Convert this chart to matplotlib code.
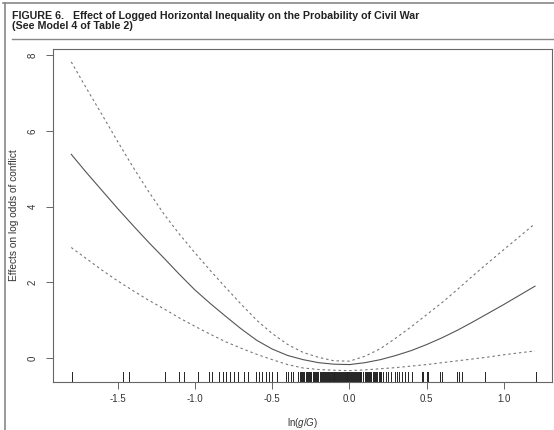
import numpy as np
import matplotlib
matplotlib.use("Agg")
import matplotlib.pyplot as plt
from matplotlib.lines import Line2D

plt.rcParams['font.family'] = ['Liberation Sans', 'DejaVu Sans']
plt.rcParams['mathtext.fontset'] = 'custom'
plt.rcParams['mathtext.it'] = 'Liberation Sans:italic'
plt.rcParams['mathtext.rm'] = 'Liberation Sans'

# fitted effect of ln(g/G) and its confidence band
x_grid = [-1.8, -1.7, -1.6, -1.5, -1.4, -1.3, -1.2, -1.1, -1.0, -0.9, -0.8, -0.7, -0.6, -0.5, -0.4, -0.3,
          -0.2, -0.1, 0.0, 0.1, 0.2, 0.3, 0.4, 0.5, 0.6, 0.7, 0.8, 0.9, 1.0, 1.1, 1.2]
fit = [5.38, 4.89, 4.42, 3.95, 3.50, 3.06, 2.64, 2.21, 1.80, 1.44, 1.10, 0.77, 0.47, 0.24, 0.07, -0.04,
       -0.12, -0.16, -0.17, -0.12, -0.04, 0.07, 0.20, 0.36, 0.54, 0.74, 0.96, 1.19, 1.42, 1.66, 1.90]
upper = [7.82, 7.11, 6.42, 5.72, 5.04, 4.40, 3.80, 3.27, 2.78, 2.31, 1.86, 1.42, 1.00, 0.65, 0.36, 0.15,
         0.02, -0.07, -0.08, 0.05, 0.25, 0.53, 0.83, 1.15, 1.47, 1.82, 2.18, 2.53, 2.87, 3.21, 3.55]
lower = [2.92, 2.62, 2.32, 2.04, 1.78, 1.53, 1.30, 1.06, 0.84, 0.63, 0.43, 0.26, 0.10, -0.04, -0.17, -0.26,
         -0.30, -0.32, -0.33, -0.31, -0.28, -0.25, -0.21, -0.17, -0.12, -0.07, -0.02, 0.03, 0.09, 0.14, 0.19]

# rug of observed ln(g/G) values
rug = [-1.798, -1.468, -1.425, -1.196, -1.101, -1.069, -0.978, -0.907, -0.888, -0.843,
       -0.821, -0.800, -0.774, -0.750, -0.724, -0.681, -0.659, -0.605, -0.586, -0.565,
       -0.543, -0.521, -0.500, -0.472, -0.411, -0.396, -0.381, -0.364,
       -0.330, -0.322, -0.316, -0.309, -0.301, -0.294, -0.283, -0.276, -0.270, -0.262,
       -0.255, -0.247, -0.238, -0.231, -0.224, -0.216, -0.209, -0.201, -0.193, -0.186,
       -0.178, -0.171, -0.163, -0.157, -0.151,
       -0.145, -0.139, -0.133, -0.127, -0.121, -0.115, -0.109, -0.103, -0.097, -0.091,
       -0.085, -0.079, -0.073, -0.067, -0.061, -0.055, -0.049, -0.043, -0.037, -0.031,
       -0.025, -0.019, -0.013, -0.007, -0.001, 0.005, 0.011, 0.017, 0.023, 0.029,
       0.035, 0.041, 0.047, 0.053, 0.059, 0.065, 0.071, 0.077,
       0.089, 0.098, 0.104, 0.112, 0.119, 0.127, 0.134, 0.142, 0.150, 0.158,
       0.166, 0.174, 0.181, 0.189, 0.196,
       0.203, 0.218, 0.235, 0.250, 0.268, 0.294, 0.309, 0.321, 0.337, 0.358,
       0.380, 0.402, 0.466, 0.473, 0.499, 0.509, 0.585, 0.600, 0.693, 0.710,
       0.727, 0.876, 1.206]

x_ticks = [-1.5, -1.0, -0.5, 0.0, 0.5, 1.0]
y_ticks = [0, 2, 4, 6, 8]

fig = plt.figure(figsize=(5.54, 4.30), dpi=100)
ax = fig.add_axes([53/554, 1-382/430, 499/554, 333/430])

ax.plot(x_grid, fit, color='#555555', lw=0.8)
ax.plot(x_grid, upper, color='#777777', lw=0.8, dashes=(2.2, 2.6))
ax.plot(x_grid, lower, color='#777777', lw=0.8, dashes=(2.2, 2.6))

for r in rug:
    ax.axvline(r, ymin=0, ymax=0.03, color='#222222', lw=0.7)

ax.set_xlim(-1.918, 1.31)
ax.set_ylim(-0.63, 8.16)
ax.set_xticks(x_ticks)
ax.set_xticklabels(['%.1f' % v for v in x_ticks])
ax.set_yticks(y_ticks)
ax.set_yticklabels([str(v) for v in y_ticks], rotation=90, va='center')

for s in ax.spines.values():
    s.set_color('#666666')
    s.set_linewidth(0.8)
ax.tick_params(axis='both', labelsize=7, length=5, width=0.7, color='#666666', labelcolor='#333333')
ax.tick_params(axis='y', pad=6)
ax.tick_params(axis='x', pad=4)

ax.set_xlabel('ln($g$/$G$)', fontsize=7, color='#333333', labelpad=8)
ax.set_ylabel('Effects on log odds of conflict', fontsize=7.3, color='#333333', labelpad=6)

fig.text(12/554, 1-16/430, 'FIGURE 6.   Effect of Logged Horizontal Inequality on the Probability of Civil War',
         fontsize=7.7, fontweight='bold', va='center', ha='left', color='#222222')
fig.text(12/554, 1-26/430, '(See Model 4 of Table 2)',
         fontsize=7.7, fontweight='bold', va='center', ha='left', color='#222222')

# page frame and rule below the caption
fig.add_artist(Line2D([3/554, 1], [1-3/430, 1-3/430], color='#888888', lw=1.2))
fig.add_artist(Line2D([5/554, 5/554], [0, 1-3/430], color='#888888', lw=1.2))
fig.add_artist(Line2D([12/554, 1], [1-39/430, 1-39/430], color='#888888', lw=1.0))

fig.savefig('out.png', dpi=100)
